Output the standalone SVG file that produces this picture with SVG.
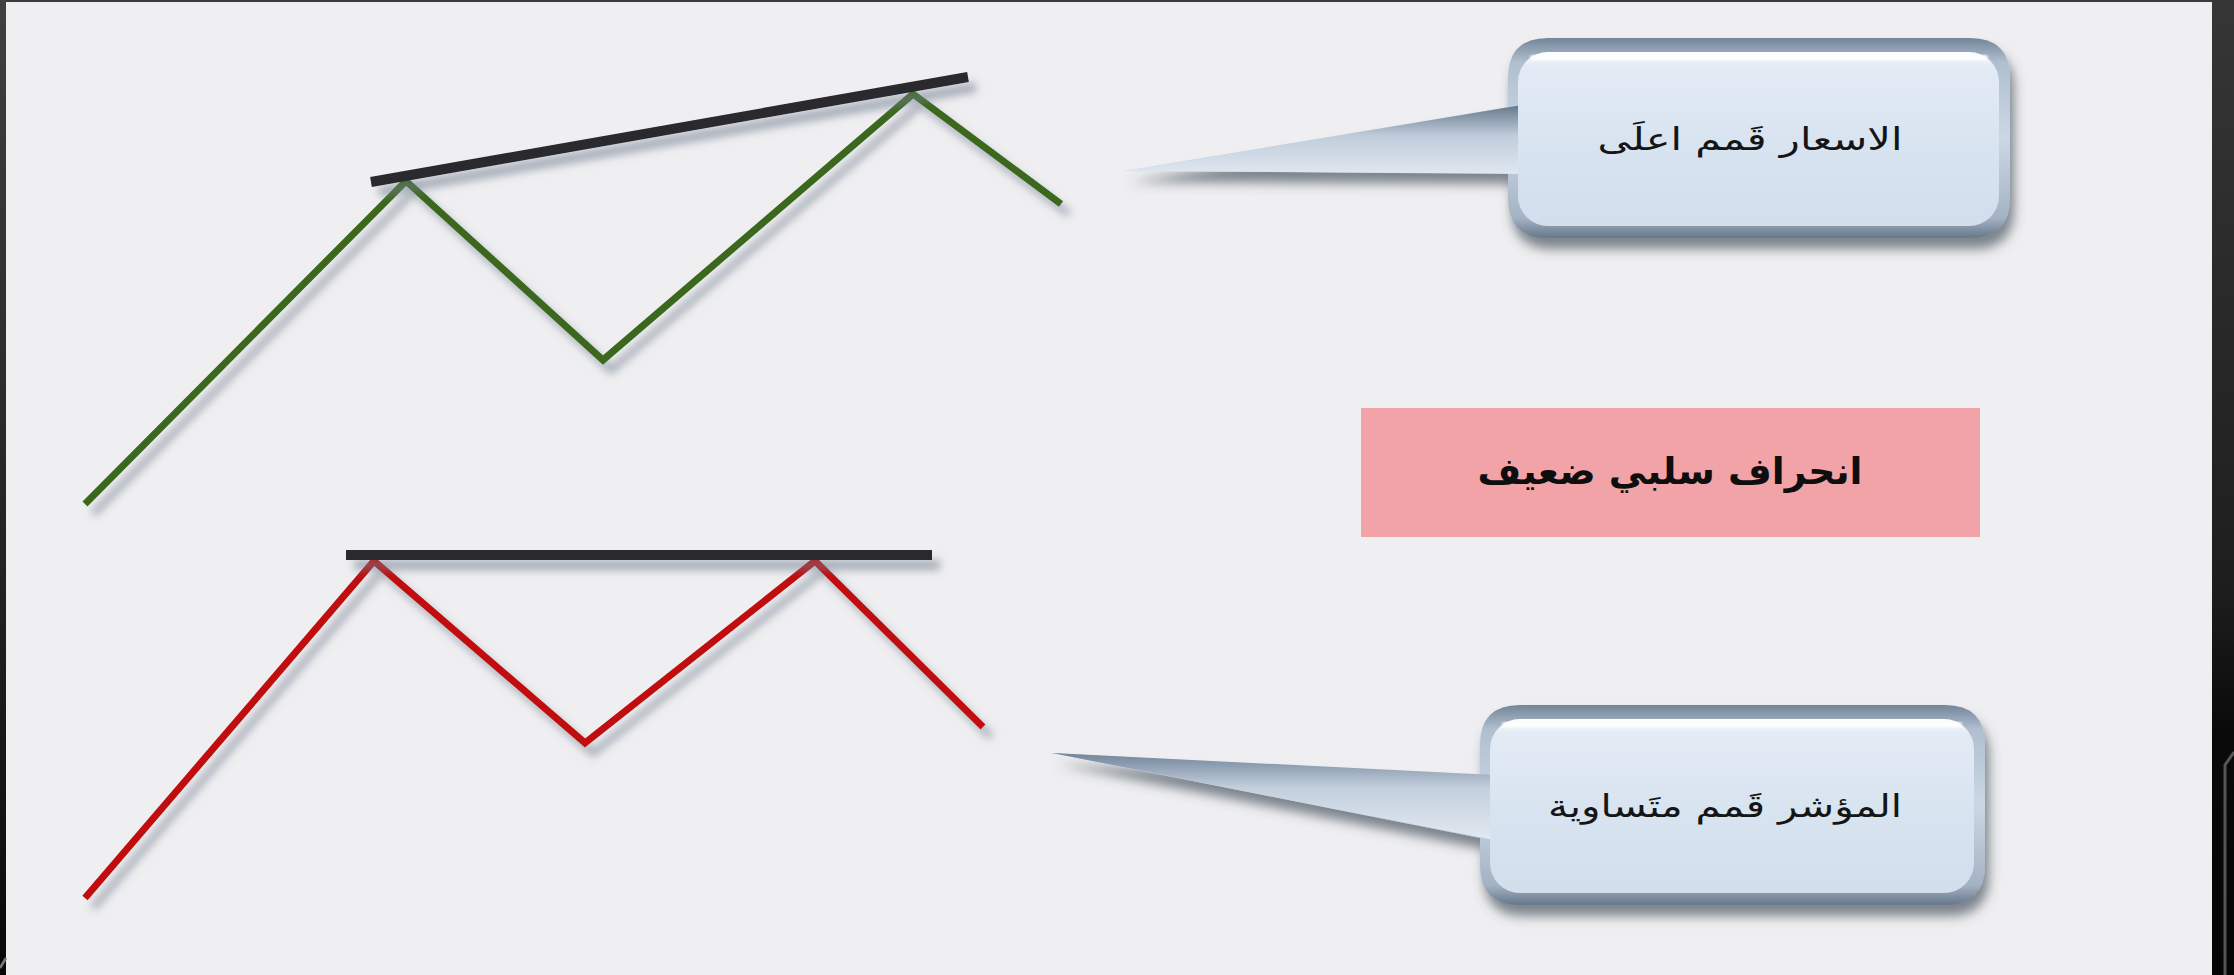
<svg xmlns="http://www.w3.org/2000/svg" width="2234" height="975" viewBox="0 0 2234 975">
  <defs>
    <filter id="lineShadow" x="-10%" y="-10%" width="130%" height="130%">
      <feDropShadow dx="8" dy="10" stdDeviation="4" flood-color="#6f7d8e" flood-opacity="0.6"/>
    </filter>
    <filter id="boxShadow" x="-10%" y="-20%" width="130%" height="150%">
      <feDropShadow dx="4" dy="11" stdDeviation="6" flood-color="#3f4854" flood-opacity="0.65"/>
    </filter>
    <filter id="soft" x="-5%" y="-5%" width="110%" height="110%">
      <feGaussianBlur stdDeviation="1.2"/>
    </filter>
    <linearGradient id="bevel" x1="0" y1="0" x2="0" y2="1">
      <stop offset="0" stop-color="#73859a"/>
      <stop offset="0.12" stop-color="#b0bfcf"/>
      <stop offset="0.5" stop-color="#cbd7e4"/>
      <stop offset="0.9" stop-color="#a4b3c4"/>
      <stop offset="1" stop-color="#66778a"/>
    </linearGradient>
    <linearGradient id="inner" x1="0" y1="0" x2="0" y2="1">
      <stop offset="0" stop-color="#ffffff"/>
      <stop offset="0.08" stop-color="#e3ebf5"/>
      <stop offset="0.5" stop-color="#d9e4f1"/>
      <stop offset="1" stop-color="#d2deec"/>
    </linearGradient>
    <linearGradient id="tailGrad1" x1="0" y1="0" x2="0" y2="1">
      <stop offset="0" stop-color="#66788c"/>
      <stop offset="0.45" stop-color="#c0cddc"/>
      <stop offset="1" stop-color="#dfe7f0"/>
    </linearGradient>
    <linearGradient id="tailGrad2" x1="0" y1="0" x2="0" y2="1">
      <stop offset="0" stop-color="#72849a"/>
      <stop offset="0.4" stop-color="#c3cfdd"/>
      <stop offset="1" stop-color="#e2e9f2"/>
    </linearGradient>
    <linearGradient id="rightFrame" x1="0" y1="0" x2="0" y2="1">
      <stop offset="0" stop-color="#363636"/>
      <stop offset="0.6" stop-color="#1e1e1e"/>
      <stop offset="0.75" stop-color="#0a0a0a"/>
      <stop offset="1" stop-color="#050505"/>
    </linearGradient>
    <linearGradient id="leftFrame" x1="0" y1="0" x2="0" y2="1">
      <stop offset="0" stop-color="#404040"/>
      <stop offset="0.6" stop-color="#222222"/>
      <stop offset="1" stop-color="#080808"/>
    </linearGradient>
  </defs>
  <style>
    .price { fill: none; stroke: #3a671a; stroke-width: 7; stroke-linejoin: miter; stroke-linecap: butt; }
    .indicator { fill: none; stroke: #c0090c; stroke-width: 7; stroke-linejoin: miter; stroke-linecap: butt; }
    .trend { fill: none; stroke: #2a2a2d; stroke-width: 10; stroke-linecap: butt; }
    .callout-text { font-family: "DejaVu Sans", "Noto Sans", sans-serif; font-size: 31px; fill: #151515; }
    .label-text { font-family: "DejaVu Sans", "Noto Sans", sans-serif; font-size: 37px; font-weight: bold; fill: #0e0e0e; }
  </style>

  <!-- background and frame -->
  <rect x="0" y="0" width="2234" height="975" fill="#efeff1"/>
  <rect x="0" y="0" width="2234" height="2" fill="#3a3a3a"/>
  <rect x="0" y="0" width="6" height="975" fill="url(#leftFrame)"/>
  <rect x="2212" y="0" width="22" height="975" fill="url(#rightFrame)"/>
  <path d="M2225 975 V765 L2234 752" fill="none" stroke="#555555" stroke-width="3"/>
  <path d="M0 968 L6 958" fill="none" stroke="#777777" stroke-width="2.5"/>

  <!-- price line -->
  <g id="price-line" filter="url(#lineShadow)">
    <polyline class="price" points="85,504 406,181 603,360 913,94 1061,204"/>
  </g>

  <!-- indicator line -->
  <g id="indicator-line" filter="url(#lineShadow)">
    <polyline class="indicator" points="85,898 374,561 585,743 815,561 983,727"/>
  </g>

  <!-- trend lines -->
  <g id="connectors" filter="url(#lineShadow)">
    <line class="trend" x1="371" y1="182" x2="968" y2="77"/>
    <line class="trend" x1="346" y1="555" x2="932" y2="555"/>
  </g>

  <!-- callout: prices -->
  <g id="callout-prices">
    <path filter="url(#boxShadow)" fill="url(#bevel)" d="M1548 38 H1970 Q2010 38 2010 78 V198 Q2010 238 1970 238 H1548 Q1508 238 1508 198 V173 L1125 171 L1508 107 V78 Q1508 38 1548 38 Z"/>
    <path fill="url(#tailGrad1)" d="M1125 171 L1522 105 L1522 174 Z"/>
    <rect x="1518" y="52" width="481" height="174" rx="30" ry="30" fill="url(#inner)"/>
    <rect x="1530" y="55" width="458" height="5" rx="2.5" fill="#ffffff" opacity="0.9" filter="url(#soft)"/>
    <text class="callout-text" x="1750" y="150" text-anchor="middle" direction="rtl" textLength="305" lengthAdjust="spacingAndGlyphs">الاسعار قَمم اعلَى</text>
  </g>

  <!-- callout: indicator -->
  <g id="callout-indicator">
    <path filter="url(#boxShadow)" fill="url(#bevel)" d="M1520 705 H1945 Q1985 705 1985 745 V865 Q1985 905 1945 905 H1520 Q1480 905 1480 865 V838 L1052 753 L1480 776 V745 Q1480 705 1520 705 Z"/>
    <path fill="url(#tailGrad2)" d="M1052 753 L1494 775 L1494 840 Z"/>
    <rect x="1490" y="719" width="484" height="174" rx="30" ry="30" fill="url(#inner)"/>
    <rect x="1502" y="722" width="460" height="5" rx="2.5" fill="#ffffff" opacity="0.9" filter="url(#soft)"/>
    <text class="callout-text" x="1725" y="817" text-anchor="middle" direction="rtl" textLength="354" lengthAdjust="spacingAndGlyphs">المؤشر قَمم متَساوية</text>
  </g>

  <!-- label: weak negative divergence -->
  <g id="label-divergence">
    <rect x="1361" y="408" width="619" height="129" fill="#f2a3a8"/>
    <text class="label-text" x="1670" y="484" text-anchor="middle" direction="rtl" textLength="385" lengthAdjust="spacingAndGlyphs">انحراف سلبي ضعيف</text>
  </g>
</svg>
